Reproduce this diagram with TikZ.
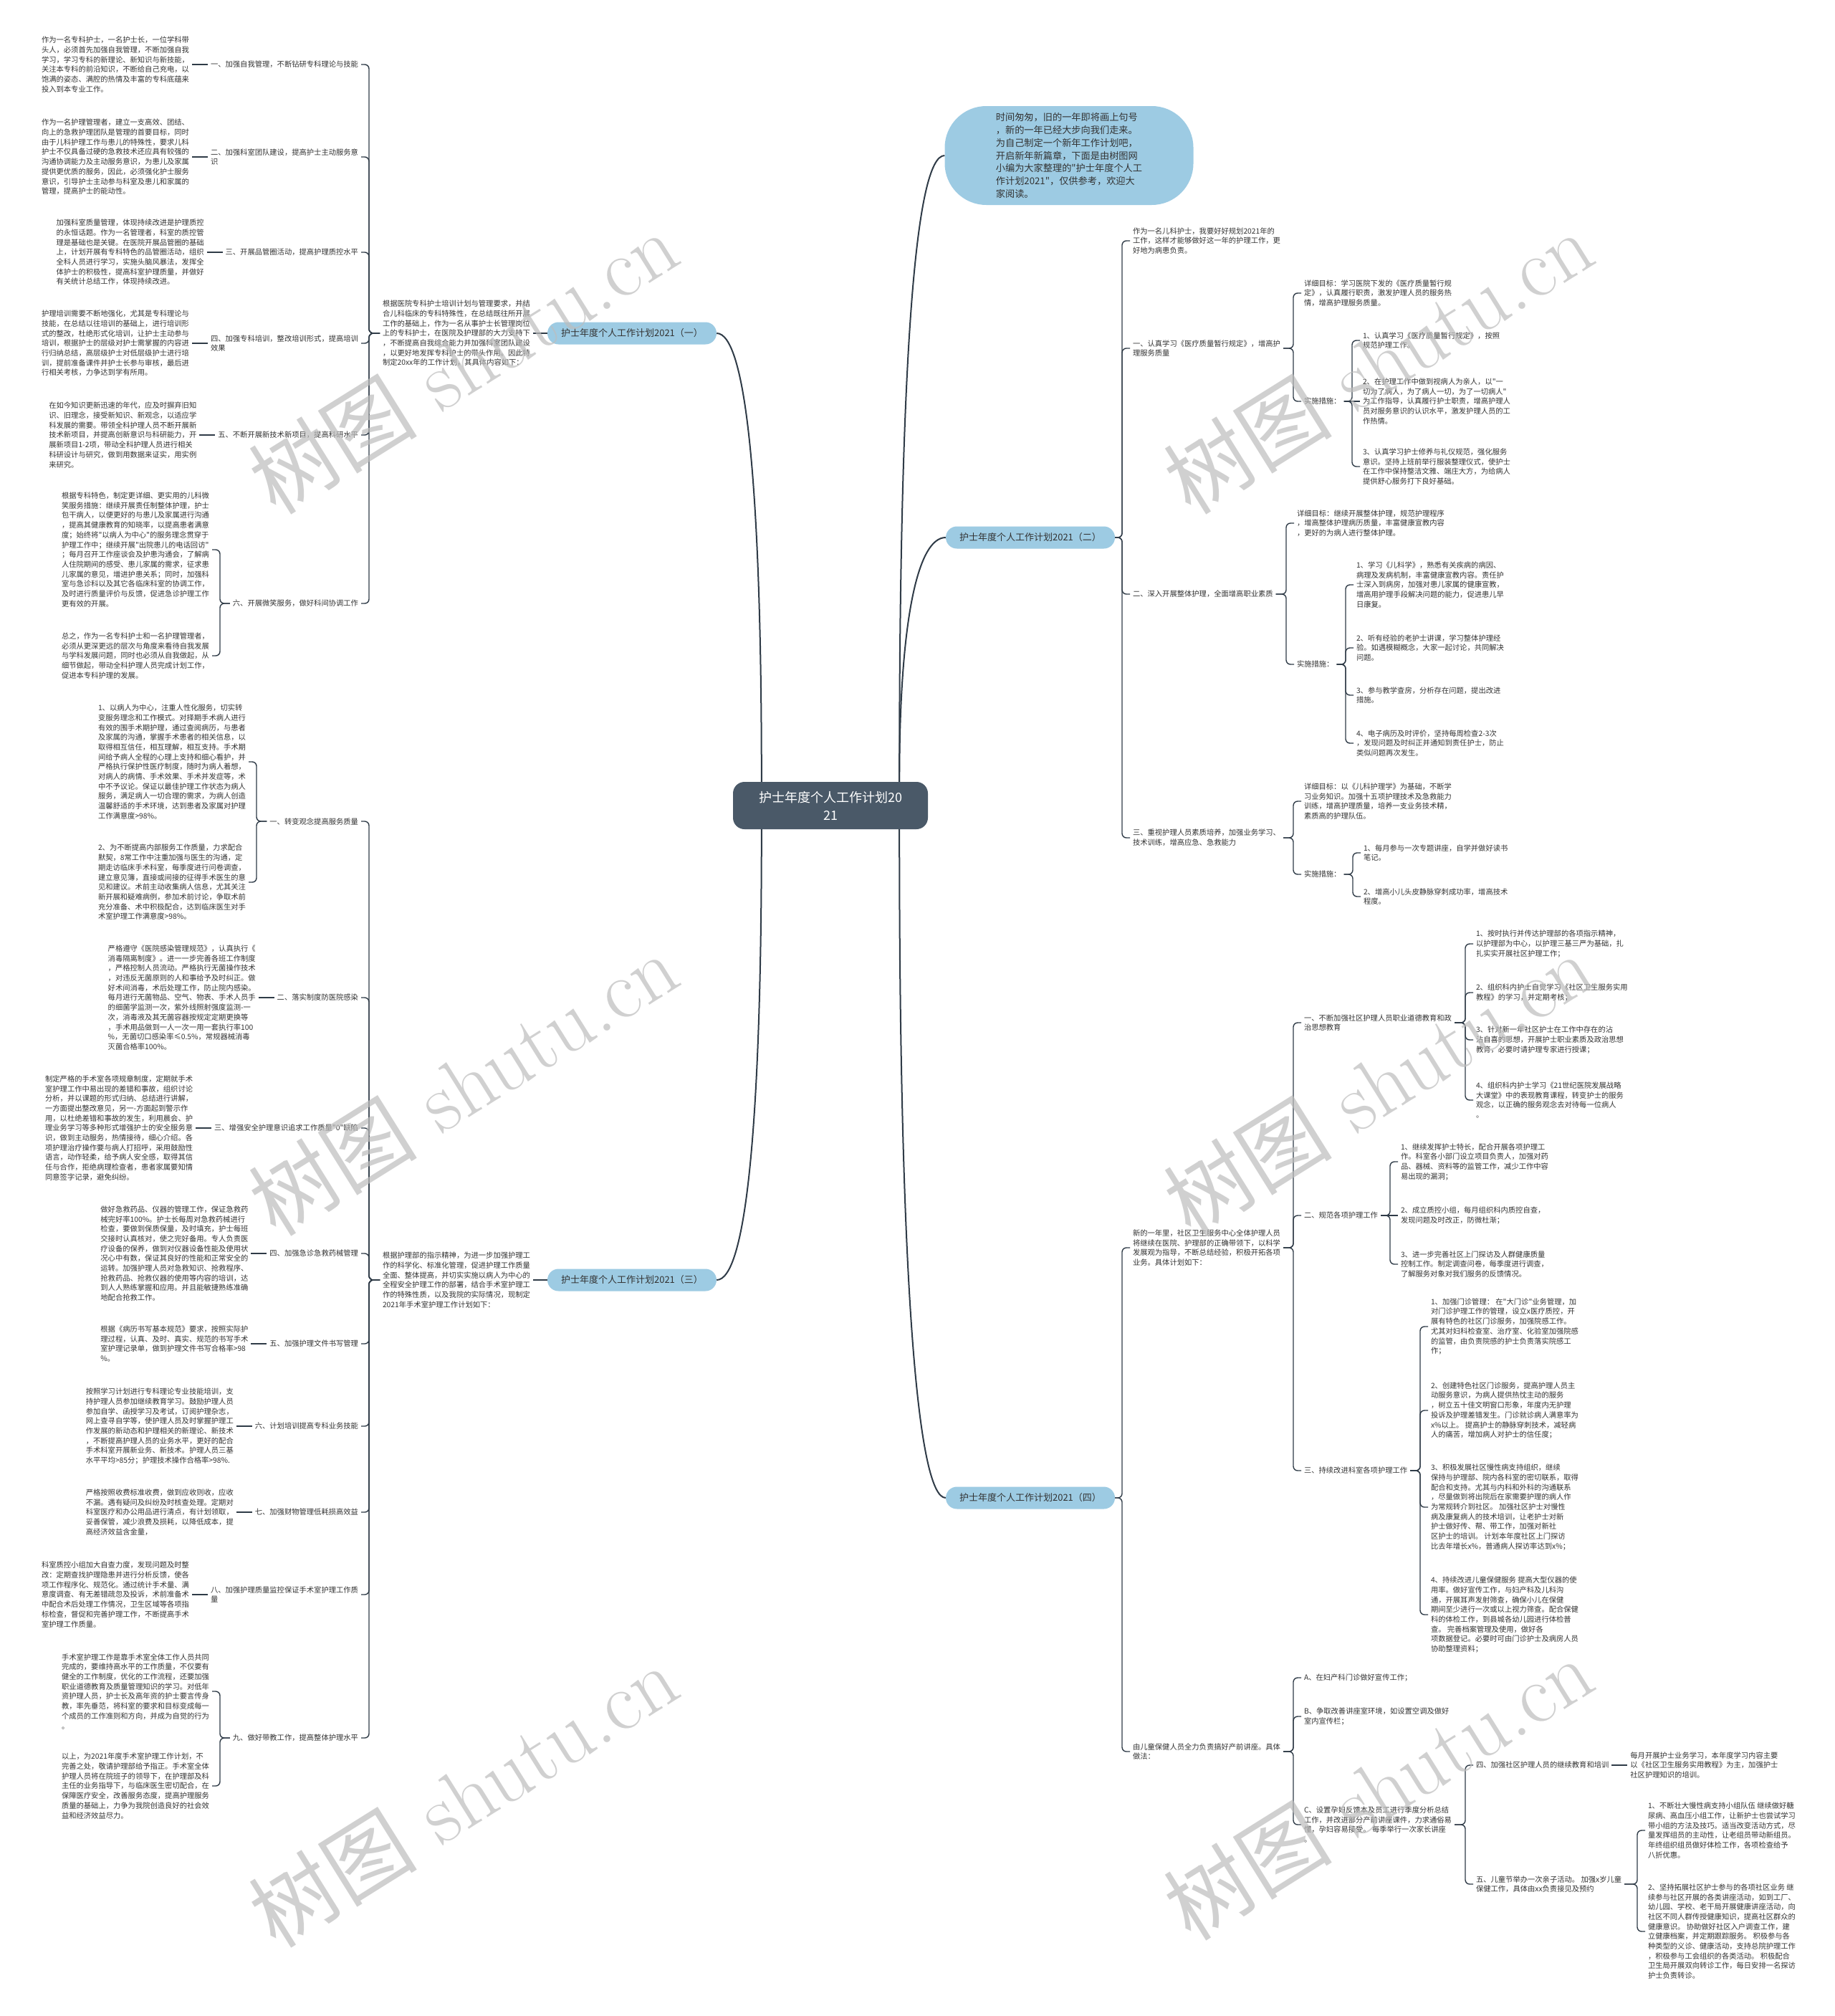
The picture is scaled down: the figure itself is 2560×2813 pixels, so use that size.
\documentclass[tikz,border=0pt]{standalone}
\usepackage{fontspec}
\newfontfamily\cjk{Noto Sans CJK SC}
\usetikzlibrary{positioning}
\definecolor{linec}{HTML}{2F3B47}
\definecolor{textc}{HTML}{333333}
\definecolor{topicc}{HTML}{9DCBE3}
\definecolor{rootc}{HTML}{4A5968}
\definecolor{markc}{HTML}{BDBDBD}

\begin{document}
\begin{tikzpicture}[x=1pt, y=1pt,
    node distance=22pt,
    txt/.style={inner sep=0pt, outer sep=4pt, align=left, text=textc,
        font=\cjk\fontsize{10.3}{13.7}\selectfont},
    root/.style={fill=rootc, text=white, rounded corners=16pt, align=center,
        minimum width=272pt, minimum height=66pt,
        font=\cjk\fontsize{18}{25}\selectfont},
    topic/.style={fill=topicc, text=textc, rounded corners=15.5pt,
        minimum width=236pt, minimum height=31pt, inner sep=0pt,
        font=\cjk\fontsize{13}{16}\selectfont},
    bubble/.style={fill=topicc, text=textc, rounded corners=58pt, align=left,
        minimum width=347pt, minimum height=138pt,
        font=\cjk\fontsize{13.2}{17.8}\selectfont},
    main/.style={draw=linec, line width=2pt},
    link/.style={draw=linec, line width=1.4pt, rounded corners=6pt},
    wmark/.style={text=markc, opacity=0.7, rotate=32,
        font=\rmfamily\fontsize{118}{118}\selectfont},
    ]

    \useasboundingbox (0,0) rectangle (2560,-2813);
    \fill[white] (0,0) rectangle (2560,-2813);

    % centre and main topics
    \node[root] (root) at (1159,-1124) {护士年度个人工作计划20\\21};
    \node[bubble] (intro) at (1492,-217) {时间匆匆，旧的一年即将画上句号\\，新的一年已经大步向我们走来。\\为自己制定一个新年工作计划吧，\\开启新年新篇章，下面是由树图网\\小编为大家整理的"护士年度个人工\\作计划2021"，仅供参考，欢迎大\\家阅读。};
    \node[topic] (b1) at (882,-465) {护士年度个人工作计划2021（一）};
    \node[topic] (b2) at (1438,-750) {护士年度个人工作计划2021（二）};
    \node[topic] (b3) at (882,-1786) {护士年度个人工作计划2021（三）};
    \node[topic] (b4) at (1438,-2090) {护士年度个人工作计划2021（四）};

    \draw[main] ([xshift=40pt]root.north west) .. controls +(0,420) and +(40,0) .. (b1.east);
    \draw[main] ([xshift=40pt]root.south west) .. controls +(0,-420) and +(40,0) .. (b3.east);
    \draw[main] ([xshift=-40pt]root.north east) .. controls +(0,600) and +(-40,0) .. (intro.west);
    \draw[main] ([xshift=-40pt]root.north east) .. controls +(0,220) and +(-40,0) .. (b2.west);
    \draw[main] ([xshift=-40pt]root.south east) .. controls +(0,-620) and +(-40,0) .. (b4.west);

    % ---- (一) ----
    \node[txt, anchor=east] (d1) at (744,-465) {根据医院专科护士培训计划与管理要求，并结\\合儿科临床的专科特殊性，在总结既往所开展\\工作的基础上，作为一名从事护士长管理岗位\\上的专科护士，在医院及护理部的大力支持下\\，不断提高自我综合能力并加强科室团队建设\\，以更好地发挥专科护士的带头作用。因此特\\制定20xx年的工作计划，其具体内容如下：};
    \draw[link] (d1.east) -- (b1.west);

    \node[txt, anchor=east] (l11) at (504,-90) {一、加强自我管理，不断钻研专科理论与技能};
    \node[txt, anchor=east] (l12) at (504,-219) {二、加强科室团队建设，提高护士主动服务意\\识};
    \node[txt, anchor=east] (l13) at (504,-352) {三、开展品管圈活动，提高护理质控水平};
    \node[txt, anchor=east] (l14) at (504,-479) {四、加强专科培训，整改培训形式，提高培训\\效果};
    \node[txt, anchor=east] (l15) at (504,-607) {五、不断开展新技术新项目，提高科研水平};
    \node[txt, anchor=east] (l16) at (504,-842) {六、开展微笑服务，做好科间协调工作};

    \node[txt, left=of l11] (t11) {作为一名专科护士，一名护士长，一位学科带\\头人，必须首先加强自我管理，不断加强自我\\学习，学习专科的新理论、新知识与新技能，\\关注本专科的前沿知识，不断给自己充电，以\\饱满的姿态、满腔的热情及丰富的专科底蕴来\\投入到本专业工作。};
    \node[txt, left=of l12] (t12) {作为一名护理管理者，建立一支高效、团结、\\向上的急救护理团队是管理的首要目标，同时\\由于儿科护理工作与患儿的特殊性，要求儿科\\护士不仅具备过硬的急救技术还应具有较强的\\沟通协调能力及主动服务意识，为患儿及家属\\提供更优质的服务，因此，必须强化护士服务\\意识，引导护士主动参与科室及患儿和家属的\\管理，提高护士的能动性。};
    \node[txt, left=of l13] (t13) {加强科室质量管理，体现持续改进是护理质控\\的永恒话题。作为一名管理者，科室的质控管\\理是基础也是关键。在医院开展品管圈的基础\\上，计划开展有专科特色的品管圈活动，组织\\全科人员进行学习，实施头脑风暴法，发挥全\\体护士的积极性，提高科室护理质量，并做好\\有关统计总结工作，体现持续改进。};
    \node[txt, left=of l14] (t14) {护理培训需要不断地强化，尤其是专科理论与\\技能，在总结以往培训的基础上，进行培训形\\式的整改，杜绝形式化培训，让护士主动参与\\培训，根据护士的层级对护士需掌握的内容进\\行归纳总结，高层级护士对低层级护士进行培\\训，提前准备课件并护士长参与审核，最后进\\行相关考核，力争达到学有所用。};
    \node[txt, left=of l15] (t15) {在如今知识更新迅速的年代，应及时摒弃旧知\\识、旧理念，接受新知识、新观念，以适应学\\科发展的需要。带领全科护理人员不断开展新\\技术新项目，并提高创新意识与科研能力，开\\展新项目1-2项，带动全科护理人员进行相关\\科研设计与研究，做到用数据来证实，用实例\\来研究。};
    \node[txt, anchor=east] (t16a) at (296,-767) {根据专科特色，制定更详细、更实用的儿科微\\笑服务措施：继续开展责任制整体护理，护士\\包干病人，以便更好的与患儿及家属进行沟通\\，提高其健康教育的知晓率，以提高患者满意\\度；始终将"以病人为中心"的服务理念贯穿于\\护理工作中；继续开展"出院患儿的电话回访"\\；每月召开工作座谈会及护患沟通会，了解病\\人住院期间的感受、患儿家属的需求，征求患\\儿家属的意见，增进护患关系；同时，加强科\\室与急诊科以及其它各临床科室的协调工作，\\及时进行质量评价与反馈，促进急诊护理工作\\更有效的开展。};
    \node[txt, anchor=east] (t16b) at (296,-915) {总之，作为一名专科护士和一名护理管理者，\\必须从更深更远的层次与角度来看待自我发展\\与学科发展问题，同时也必须从自我做起，从\\细节做起，带动全科护理人员完成计划工作，\\促进本专科护理的发展。};

    \draw[link] (d1.west) -| ([xshift=11pt]l11.east) -- (l11.east);
    \draw[link] (d1.west) -| ([xshift=11pt]l12.east) -- (l12.east);
    \draw[link] (d1.west) -| ([xshift=11pt]l13.east) -- (l13.east);
    \draw[link] (d1.west) -| ([xshift=11pt]l14.east) -- (l14.east);
    \draw[link] (d1.west) -| ([xshift=11pt]l15.east) -- (l15.east);
    \draw[link] (d1.west) -| ([xshift=11pt]l16.east) -- (l16.east);
    \draw[link] (t11.east) -- (l11.west);
    \draw[link] (t12.east) -- (l12.west);
    \draw[link] (t13.east) -- (l13.west);
    \draw[link] (t14.east) -- (l14.west);
    \draw[link] (t15.east) -- (l15.west);
    \draw[link] (l16.west) -| ([xshift=11pt]t16a.east) -- (t16a.east);
    \draw[link] (l16.west) -| ([xshift=11pt]t16b.east) -- (t16b.east);

    % ---- (三) ----
    \node[txt, anchor=east] (d3) at (744,-1786) {根据护理部的指示精神，为进一步加强护理工\\作的科学化、标准化管理，促进护理工作质量\\全面、整体提高，并切实实施以病人为中心的\\全程安全护理工作的部署，结合手术室护理工\\作的特殊性质，以及我院的实际情况，现制定\\2021年手术室护理工作计划如下：};
    \draw[link] (d3.east) -- (b3.west);

    \node[txt, anchor=east] (l31) at (504,-1146) {一、转变观念提高服务质量};
    \node[txt, anchor=east] (l32) at (504,-1392) {二、落实制度防医院感染};
    \node[txt, anchor=east] (l33) at (504,-1574) {三、增强安全护理意识追求工作质量"0"缺陷};
    \node[txt, anchor=east] (l34) at (504,-1749) {四、加强急诊急救药械管理};
    \node[txt, anchor=east] (l35) at (504,-1875) {五、加强护理文件书写管理};
    \node[txt, anchor=east] (l36) at (504,-1990) {六、计划培训提高专科业务技能};
    \node[txt, anchor=east] (l37) at (504,-2110) {七、加强财物管理低耗损高效益};
    \node[txt, anchor=east] (l38) at (504,-2225) {八、加强护理质量监控保证手术室护理工作质\\量};
    \node[txt, anchor=east] (l39) at (504,-2425) {九、做好带教工作，提高整体护理水平};

    \node[txt, anchor=east] (t31a) at (347,-1063) {1、以病人为中心，注重人性化服务，切实转\\变服务理念和工作模式。对择期手术病人进行\\有效的围手术期护理，通过查阅病历，与患者\\及家属的沟通，掌握手术患者的相关信息，以\\取得相互信任，相互理解，相互支持。手术期\\间给予病人全程的心理上支持和细心看护，并\\严格执行保护性医疗制度，随时为病人着想，\\对病人的病情、手术效果、手术并发症等，术\\中不予议论。保证以最佳护理工作状态为病人\\服务，满足病人一切合理的需求，为病人创造\\温馨舒适的手术环境，达到患者及家属对护理\\工作满意度>98\%。};
    \node[txt, anchor=east] (t31b) at (347,-1231) {2、为不断提高内部服务工作质量，力求配合\\默契，8常工作中注重加强与医生的沟通，定\\期走访临床手术科室，每季度进行问卷调查，\\建立意见簿，直接或间接的征得手术医生的意\\见和建议。术前主动收集病人信息，尤其关注\\新开展和疑难病例，参加术前讨论，争取术前\\充分准备、术中积极配合，达到临床医生对手\\术室护理工作满意度>98\%。};
    \node[txt, left=of l32] (t32) {严格遵守《医院感染管理规范》，认真执行《\\消毒隔离制度》。进一一步完善各班工作制度\\，严格控制人员流动。严格执行无菌操作技术\\，对违反无菌原则的人和事给予及时纠正。做\\好术间消毒，术后处理工作，防止院内感染。\\每月进行无菌物品、空气、物表、手术人员手\\的细菌学监测一次，紫外线照射强度监测-一\\次，消毒液及其无菌容器按规定定期更换等\\，手术用品做到一人一次一用一套执行率100\\\%，无菌切口感染率≤0.5\%，常规器械消毒\\灭菌合格率100\%。};
    \node[txt, left=of l33] (t33) {制定严格的手术室各项规章制度，定期就手术\\室护理工作中易出现的差错和事故，组织讨论\\分析，并以课题的形式归纳、总结进行讲解，\\一方面提出整改意见，另一-方面起到警示作\\用，以杜绝差错和事故的发生，利用晨会、护\\理业务学习等多种形式增强护士的安全服务意\\识，做到主动服务，热情接待，细心介绍。各\\项护理治疗操作要与病人打招呼，采用鼓励性\\语言，动作轻柔，给予病人安全感，取得其信\\任与合作，拒绝病理检查者，患者家属要知情\\同意签字记录，避免纠纷。};
    \node[txt, left=of l34] (t34) {做好急救药品、仪器的管理工作，保证急救药\\械完好率100\%。护士长每周对急救药械进行\\检查，要做到保质保量，及时填充，护士每班\\交接时认真核对，使之完好备用。专人负责医\\疗设备的保养，做到对仪器设备性能及使用状\\况心中有数，保证其良好的性能和正常安全的\\运转。加强护理人员对急救知识、抢救程序、\\抢救药品、抢救仪器的使用等内容的培训，达\\到人人熟练掌握和应用。并且能敏捷熟练准确\\地配合抢救工作。};
    \node[txt, left=of l35] (t35) {根据《病历书写基本规范》要求，按照实际护\\理过程，认真、及时、真实、规范的书写手术\\室护理记录单，做到护理文件书写合格率>98\\\%。};
    \node[txt, left=of l36] (t36) {按照学习计划进行专科理论专业技能培训，支\\持护理人员参加继续教育学习。鼓励护理人员\\参加自学、函授学习及考试，订阅护理杂志，\\网上查寻自学等，使护理人员及时掌握护理工\\作发展的新动态和护理相关的新理论、新技术\\，不断提高护理人员的业务水平，更好的配合\\手术科室开展新业务、新技术。护理人员三基\\水平平均>85分；护理技术操作合格率>98\%.};
    \node[txt, left=of l37] (t37) {严格按照收费标准收费，做到应收则收，应收\\不漏。遇有疑问及纠纷及时核查处理。定期对\\科室医疗和办公用品进行清点，有计划领取，\\妥善保管，减少浪费及损耗，以降低成本，提\\高经济效益含金量，};
    \node[txt, left=of l38] (t38) {科室质控小组加大自查力度，发现问题及时整\\改：定期查找护理隐患并进行分析反馈，使各\\项工作程序化、规范化。通过统计手术量、满\\意度调查、有无差错疏忽及投诉，术前准备术\\中配合术后处理工作情况，卫生区域等各项指\\标检查，督促和完善护理工作，不断提高手术\\室护理工作质量。};
    \node[txt, anchor=east] (t39a) at (296,-2360) {手术室护理工作是靠手术室全体工作人员共同\\完成的，要维持高水平的工作质量，不仅要有\\健全的工作制度，优化的工作流程，还要加强\\职业道德教育及质量管理知识的学习。对低年\\资护理人员，护士长及高年资的护士要言传身\\教，率先垂范，将科室的要求和目标变成每一\\个成员的工作准则和方向，并成为自觉的行为\\。};
    \node[txt, anchor=east] (t39b) at (296,-2492) {以上，为2021年度手术室护理工作计划，不\\完善之处，敬请护理部给予指正。手术室全体\\护理人员将在院班子的领导下，在护理部及科\\主任的业务指导下，与临床医生密切配合，在\\保障医疗安全，改善服务态度，提高护理服务\\质量的基础上，力争为我院创造良好的社会效\\益和经济效益尽力。};

    \draw[link] (d3.west) -| ([xshift=11pt]l31.east) -- (l31.east);
    \draw[link] (d3.west) -| ([xshift=11pt]l32.east) -- (l32.east);
    \draw[link] (d3.west) -| ([xshift=11pt]l33.east) -- (l33.east);
    \draw[link] (d3.west) -| ([xshift=11pt]l34.east) -- (l34.east);
    \draw[link] (d3.west) -| ([xshift=11pt]l35.east) -- (l35.east);
    \draw[link] (d3.west) -| ([xshift=11pt]l36.east) -- (l36.east);
    \draw[link] (d3.west) -| ([xshift=11pt]l37.east) -- (l37.east);
    \draw[link] (d3.west) -| ([xshift=11pt]l38.east) -- (l38.east);
    \draw[link] (d3.west) -| ([xshift=11pt]l39.east) -- (l39.east);
    \draw[link] (l31.west) -| ([xshift=11pt]t31a.east) -- (t31a.east);
    \draw[link] (l31.west) -| ([xshift=11pt]t31b.east) -- (t31b.east);
    \draw[link] (t32.east) -- (l32.west);
    \draw[link] (t33.east) -- (l33.west);
    \draw[link] (t34.east) -- (l34.west);
    \draw[link] (t35.east) -- (l35.west);
    \draw[link] (t36.east) -- (l36.west);
    \draw[link] (t37.east) -- (l37.west);
    \draw[link] (t38.east) -- (l38.west);
    \draw[link] (l39.west) -| ([xshift=11pt]t39a.east) -- (t39a.east);
    \draw[link] (l39.west) -| ([xshift=11pt]t39b.east) -- (t39b.east);

    % ---- (二) ----
    \node[txt, anchor=west] (i21) at (1577,-336) {作为一名儿科护士，我要好好规划2021年的\\工作，这样才能够做好这一年的护理工作，更\\好地为病患负责。};
    \node[txt, anchor=west] (l21) at (1577,-486) {一、认真学习《医疗质量暂行规定》，增高护\\理服务质量};
    \node[txt, anchor=west] (d21) at (1816,-409) {详细目标：学习医院下发的《医疗质量暂行规\\定》，认真履行职责，激发护理人员的服务热\\情，增高护理服务质量。};
    \node[txt, anchor=west] (s21) at (1816,-560) {实施措施：};
    \node[txt, anchor=west] (p211) at (1898,-475) {1、认真学习《医疗质量暂行规定》，按照\\规范护理工作。};
    \node[txt, anchor=west] (p212) at (1898,-560) {2、在护理工作中做到视病人为亲人，以"一\\切为了病人，为了病人一切，为了一切病人"\\为工作指导，认真履行护士职责，增高护理人\\员对服务意识的认识水平，激发护理人员的工\\作热情。};
    \node[txt, anchor=west] (p213) at (1898,-651) {3、认真学习护士修养与礼仪规范，强化服务\\意识。坚持上班前举行服装整理仪式，使护士\\在工作中保持整洁文雅、端庄大方，为给病人\\提供舒心服务打下良好基础。};

    \node[txt, anchor=west] (l22) at (1577,-829) {二、深入开展整体护理，全面增高职业素质};
    \node[txt, anchor=west] (d22) at (1806,-730) {详细目标：继续开展整体护理，规范护理程序\\，增高整体护理病历质量，丰富健康宣教内容\\，更好的为病人进行整体护理。};
    \node[txt, anchor=west] (s22) at (1806,-927) {实施措施：};
    \node[txt, anchor=west] (p221) at (1889,-816) {1、学习《儿科学》，熟悉有关疾病的病因、\\病理及发病机制，丰富健康宣教内容。责任护\\士深入到病房，加强对患儿家属的健康宣教，\\增高用护理手段解决问题的能力，促进患儿早\\日康复。};
    \node[txt, anchor=west] (p222) at (1889,-904) {2、听有经验的老护士讲课，学习整体护理经\\验。如遇模糊概念，大家一起讨论，共同解决\\问题。};
    \node[txt, anchor=west] (p223) at (1889,-970) {3、参与教学查房，分析存在问题，提出改进\\措施。};
    \node[txt, anchor=west] (p224) at (1889,-1037) {4、电子病历及时评价，坚持每周检查2-3次\\，发现问题及时纠正并通知到责任护士，防止\\类似问题再次发生。};

    \node[txt, anchor=west] (l23) at (1577,-1169) {三、重视护理人员素质培养，加强业务学习、\\技术训练，增高应急、急救能力};
    \node[txt, anchor=west] (d23) at (1816,-1118) {详细目标：以《儿科护理学》为基础，不断学\\习业务知识。加强十五项护理技术及急救能力\\训练，增高护理质量，培养一支业务技术精，\\素质高的护理队伍。};
    \node[txt, anchor=west] (s23) at (1816,-1220) {实施措施：};
    \node[txt, anchor=west] (p231) at (1899,-1190) {1、每月参与一次专题讲座，自学并做好读书\\笔记。};
    \node[txt, anchor=west] (p232) at (1899,-1251) {2、增高小儿头皮静脉穿刺成功率，增高技术\\程度。};

    \draw[link] (b2.east) -| ([xshift=-11pt]i21.west) -- (i21.west);
    \draw[link] (b2.east) -| ([xshift=-11pt]l21.west) -- (l21.west);
    \draw[link] (b2.east) -| ([xshift=-11pt]l22.west) -- (l22.west);
    \draw[link] (b2.east) -| ([xshift=-11pt]l23.west) -- (l23.west);
    \draw[link] (l21.east) -| ([xshift=-11pt]d21.west) -- (d21.west);
    \draw[link] (l21.east) -| ([xshift=-11pt]s21.west) -- (s21.west);
    \draw[link] (s21.east) -| ([xshift=-11pt]p211.west) -- (p211.west);
    \draw[link] (s21.east) -- (p212.west);
    \draw[link] (s21.east) -| ([xshift=-11pt]p213.west) -- (p213.west);
    \draw[link] (l22.east) -| ([xshift=-11pt]d22.west) -- (d22.west);
    \draw[link] (l22.east) -| ([xshift=-11pt]s22.west) -- (s22.west);
    \draw[link] (s22.east) -| ([xshift=-11pt]p221.west) -- (p221.west);
    \draw[link] (s22.east) -| ([xshift=-11pt]p222.west) -- (p222.west);
    \draw[link] (s22.east) -| ([xshift=-11pt]p223.west) -- (p223.west);
    \draw[link] (s22.east) -| ([xshift=-11pt]p224.west) -- (p224.west);
    \draw[link] (l23.east) -| ([xshift=-11pt]d23.west) -- (d23.west);
    \draw[link] (l23.east) -| ([xshift=-11pt]s23.west) -- (s23.west);
    \draw[link] (s23.east) -| ([xshift=-11pt]p231.west) -- (p231.west);
    \draw[link] (s23.east) -| ([xshift=-11pt]p232.west) -- (p232.west);

    % ---- (四) ----
    \node[txt, anchor=west] (n41) at (1577,-1741) {新的一年里，社区卫生服务中心全体护理人员\\将继续在医院、护理部的正确带领下，以科学\\发展观为指导，不断总结经验，积极开拓各项\\业务。具体计划如下：};
    \node[txt, anchor=west] (l41) at (1816,-1427) {一、不断加强社区护理人员职业道德教育和政\\治思想教育};
    \node[txt, anchor=west] (l42) at (1816,-1696) {二、规范各项护理工作};
    \node[txt, anchor=west] (l43) at (1816,-2052) {三、持续改进科室各项护理工作};
    \node[txt, anchor=west] (p411) at (2056,-1317) {1、按时执行并传达护理部的各项指示精神，\\以护理部为中心，以护理三基三严为基础，扎\\扎实实开展社区护理工作；};
    \node[txt, anchor=west] (p412) at (2056,-1385) {2、组织科内护士自觉学习《社区卫生服务实用\\教程》的学习，并定期考核；};
    \node[txt, anchor=west] (p413) at (2056,-1451) {3、针对新一年社区护士在工作中存在的沾\\沾自喜的思想，开展护士职业素质及政治思想\\教育，必要时请护理专家进行授课；};
    \node[txt, anchor=west] (p414) at (2056,-1535) {4、组织科内护士学习《21世纪医院发展战略\\大课堂》中的表现教育课程，转变护士的服务\\观念，以正确的服务观念去对待每一位病人\\。};
    \node[txt, anchor=west] (p421) at (1951,-1621) {1、继续发挥护士特长，配合开展各项护理工\\作。科室各小部门设立项目负责人，加强对药\\品、器械、资料等的监管工作，减少工作中容\\易出现的漏洞；};
    \node[txt, anchor=west] (p422) at (1951,-1696) {2、成立质控小组，每月组织科内质控自查，\\发现问题及时改正，防微杜渐；};
    \node[txt, anchor=west] (p423) at (1951,-1764) {3、进一步完善社区上门探访及人群健康质量\\控制工作。制定调查问卷，每季度进行调查，\\了解服务对象对我们服务的反馈情况。};
    \node[txt, anchor=west] (p431) at (1993,-1851) {1、加强门诊管理： 在"大门诊"业务管理，加\\对门诊护理工作的管理，设立x医疗质控，开\\展有特色的社区门诊服务，加强院感工作。\\尤其对妇科检查室、治疗室、化验室加强院感\\的监管，由负责院感的护士负责落实院感工\\作；};
    \node[txt, anchor=west] (p432) at (1993,-1968) {2、创建特色社区门诊服务，提高护理人员主\\动服务意识，为病人提供热忱主动的服务\\，树立五十佳文明窗口形象，年度内无护理\\投诉及护理差错发生。门诊就诊病人满意率为\\x\%以上。 提高护士的静脉穿刺技术，减轻病\\人的痛苦，增加病人对护士的信任度；};
    \node[txt, anchor=west] (p433) at (1993,-2103) {3、积极发展社区慢性病支持组织，继续\\保持与护理部、院内各科室的密切联系，取得\\配合和支持。尤其与内科和外科的沟通联系\\，尽量做到将出院后在家需要护理的病人作\\为常规转介到社区。 加强社区护士对慢性\\病及康复病人的技术培训，让老护士对新\\护士做好传、帮、带工作，加强对新社\\区护士的培训。 计划本年度社区上门探访\\比去年增长x\%，普通病人探访率达到x\%；};
    \node[txt, anchor=west] (p434) at (1993,-2253) {4、持续改进儿童保健服务 提高大型仪器的使\\用率。做好宣传工作，与妇产科及儿科沟\\通，开展耳声发射筛查，确保小儿在保健\\期间至少进行一次或以上视力筛查。配合保健\\科的体检工作，到县城各幼儿园进行体检普\\查。 完善档案管理及使用，做好各\\项数据登记。必要时可由门诊护士及病房人员\\协助整理资料；};

    \node[txt, anchor=west] (n42) at (1577,-2444) {由儿童保健人员全力负责搞好产前讲座。具体\\做法：};
    \node[txt, anchor=west] (qa) at (1816,-2341) {A、在妇产科门诊做好宣传工作；};
    \node[txt, anchor=west] (qb) at (1816,-2395) {B、争取改善讲座室环境，如设置空调及做好\\室内宣传栏；};
    \node[txt, anchor=west] (qc) at (1816,-2546) {C、设置孕妇反馈本及员工进行季度分析总结\\工作，并改进部分产前讲座课件，力求通俗易\\懂，孕妇容易接受。 每季举行一次家长讲座\\。};
    \node[txt, anchor=west] (q4) at (2056,-2463) {四、加强社区护理人员的继续教育和培训};
    \node[txt, right=of q4] (q4t) {每月开展护士业务学习，本年度学习内容主要\\以《社区卫生服务实用教程》为主，加强护士\\社区护理知识的培训。};
    \node[txt, anchor=west] (q5) at (2056,-2629) {五、儿童节举办一次亲子活动。 加强x岁儿童\\保健工作，具体由xx负责接见及预约};
    \node[txt, anchor=west] (q51) at (2296,-2554) {1、不断壮大慢性病支持小组队伍 继续做好糖\\尿病、高血压小组工作，让新护士也尝试学习\\带小组的方法及技巧。适当改变活动方式，尽\\量发挥组员的主动性，让老组员带动新组员。\\年终组织组员做好体检工作，各项检查给予\\八折优惠。};
    \node[txt, anchor=west] (q52) at (2296,-2695) {2、坚持拓展社区护士参与的各项社区业务 继\\续参与社区开展的各类讲座活动，如到工厂、\\幼儿园、学校、老干局开展健康讲座活动，向\\社区不同人群传授健康知识，提高社区群众的\\健康意识。 协助做好社区入户调查工作，建\\立健康档案，并定期跟踪服务。 积极参与各\\种类型的义诊、健康活动，支持总院护理工作\\，积极参与工会组织的各类活动。 积极配合\\卫生局开展双向转诊工作，每日安排一名探访\\护士负责转诊。};

    \draw[link] (b4.east) -| ([xshift=-11pt]n41.west) -- (n41.west);
    \draw[link] (b4.east) -| ([xshift=-11pt]n42.west) -- (n42.west);
    \draw[link] (n41.east) -| ([xshift=-11pt]l41.west) -- (l41.west);
    \draw[link] (n41.east) -| ([xshift=-11pt]l42.west) -- (l42.west);
    \draw[link] (n41.east) -| ([xshift=-11pt]l43.west) -- (l43.west);
    \draw[link] (l41.east) -| ([xshift=-11pt]p411.west) -- (p411.west);
    \draw[link] (l41.east) -| ([xshift=-11pt]p412.west) -- (p412.west);
    \draw[link] (l41.east) -| ([xshift=-11pt]p413.west) -- (p413.west);
    \draw[link] (l41.east) -| ([xshift=-11pt]p414.west) -- (p414.west);
    \draw[link] (l42.east) -| ([xshift=-11pt]p421.west) -- (p421.west);
    \draw[link] (l42.east) -- (p422.west);
    \draw[link] (l42.east) -| ([xshift=-11pt]p423.west) -- (p423.west);
    \draw[link] (l43.east) -| ([xshift=-11pt]p431.west) -- (p431.west);
    \draw[link] (l43.east) -| ([xshift=-11pt]p432.west) -- (p432.west);
    \draw[link] (l43.east) -| ([xshift=-11pt]p433.west) -- (p433.west);
    \draw[link] (l43.east) -| ([xshift=-11pt]p434.west) -- (p434.west);
    \draw[link] (n42.east) -| ([xshift=-11pt]qa.west) -- (qa.west);
    \draw[link] (n42.east) -| ([xshift=-11pt]qb.west) -- (qb.west);
    \draw[link] (n42.east) -| ([xshift=-11pt]qc.west) -- (qc.west);
    \draw[link] (qc.east) -| ([xshift=-11pt]q4.west) -- (q4.west);
    \draw[link] (qc.east) -| ([xshift=-11pt]q5.west) -- (q5.west);
    \draw[link] (q4.east) -- (q4t.west);
    \draw[link] (q5.east) -| ([xshift=-11pt]q51.west) -- (q51.west);
    \draw[link] (q5.east) -| ([xshift=-11pt]q52.west) -- (q52.west);

    % watermarks
    \node[wmark] (wm1) at (646,-505) {{\cjk 树图} shutu.cn};
    \node[wmark] (wm2) at (1923,-505) {{\cjk 树图} shutu.cn};
    \node[wmark] (wm3) at (646,-1512) {{\cjk 树图} shutu.cn};
    \node[wmark] (wm4) at (1923,-1512) {{\cjk 树图} shutu.cn};
    \node[wmark] (wm5) at (646,-2505) {{\cjk 树图} shutu.cn};
    \node[wmark] (wm6) at (1923,-2495) {{\cjk 树图} shutu.cn};
\end{tikzpicture}
\end{document}
